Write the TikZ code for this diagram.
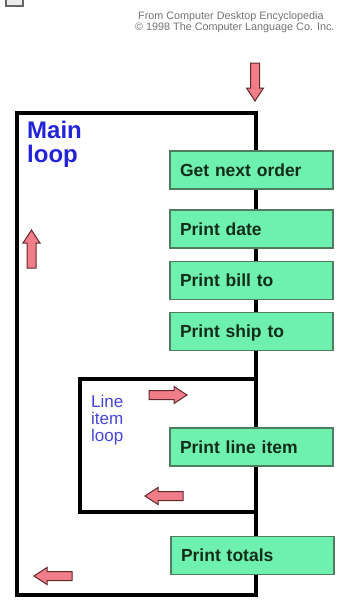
\documentclass[tikz,border=0pt]{standalone}
\usepackage{fontspec}
\setmainfont{Liberation Sans}
\usetikzlibrary{backgrounds}
\definecolor{boxfill}{RGB}{110,240,175}
\definecolor{boxline}{RGB}{80,125,95}
\definecolor{boxtext}{RGB}{20,45,25}
\definecolor{loopblue}{RGB}{35,35,215}
\definecolor{innerblue}{RGB}{70,70,215}
\definecolor{arrowfill}{RGB}{240,125,135}
\definecolor{arrowline}{RGB}{95,40,45}
\definecolor{notegray}{RGB}{115,115,115}
\tikzset{
  stepbox/.style={draw=boxline, fill=boxfill, line width=1.2pt, text width=143pt,
    inner xsep=10pt, inner ysep=0pt, minimum height=38pt, text height=12.5pt,
    text depth=0pt, align=left, text=boxtext, font=\bfseries\fontsize{17.5}{20}\selectfont},
  loopline/.style={line width=4pt, line join=miter},
  pics/fatarrow/.style={code={
    \draw[fill=arrowfill, draw=arrowline, line width=1pt, line join=miter]
      (0,-4.5) -- (25,-4.5) -- (25,-8.5) -- (38,0) -- (25,8.5) -- (25,4.5) -- (0,4.5) -- cycle;}}
}
\begin{document}
\begin{tikzpicture}[x=1pt,y=-1pt]
  \useasboundingbox (0,0) rectangle (346,606);
  % source note and corner scrap
  \node[anchor=north west, align=left, inner sep=0, text=notegray,
    font=\fontsize{10.8}{11.5}\selectfont] (note) at (135,11)
    {\hspace*{3pt}From Computer Desktop Encyclopedia\\\textcopyright{} 1998 The Computer Language Co. Inc.};
  \draw[draw=gray!80!black, fill=gray!15, line width=1.5pt] (6,-3) rectangle (23,6);
  % steps
  \node[stepbox] (get) at (251.5,170) {Get next order};
  \node[stepbox] (date) at (251.5,229) {Print date};
  \node[stepbox] (bill) at (251.5,280.5) {Print bill to};
  \node[stepbox] (ship) at (251.5,331.5) {Print ship to};
  \node[stepbox] (item) at (251.5,447) {Print line item};
  \node[stepbox] (totals) at (252.5,555.5) {Print totals};
  % loop corners
  \coordinate (mtop) at (256,113);
  \coordinate (mtl) at (17,113);
  \coordinate (mbl) at (17,595);
  \coordinate (mbot) at (256,595);
  \coordinate (itop) at (256,379);
  \coordinate (itl) at (80,379);
  \coordinate (ibl) at (80,512);
  \coordinate (ibot) at (256,512);
  \begin{scope}[on background layer]
    \draw[loopline] (mtop) -- (mtl) -- (mbl) -- (mbot) -- cycle;
    \draw[loopline] (itop) -- (itl) -- (ibl) -- (ibot);
  \end{scope}
  % loop labels
  \node[anchor=north west, align=left, inner sep=0, text=loopblue,
    font=\bfseries\fontsize{24}{24}\selectfont] (mainlbl) at (27,121) {Main\\loop};
  \node[anchor=north west, align=left, inner sep=0, text=innerblue,
    font=\fontsize{17}{17}\selectfont] (itemlbl) at (91,395) {Line\\item\\loop};
  % flow arrows
  \pic[rotate=-90] at (255,63) {fatarrow};
  \pic[rotate=90] at (31.5,268) {fatarrow};
  \pic at (149,395) {fatarrow};
  \pic[rotate=180] at (183,496) {fatarrow};
  \pic[rotate=180] at (72,576) {fatarrow};
\end{tikzpicture}
\end{document}
